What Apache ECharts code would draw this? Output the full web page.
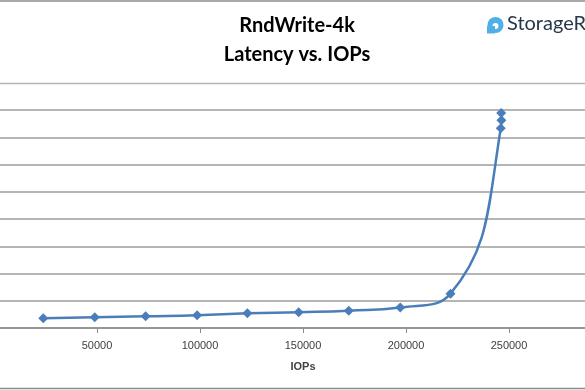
<!DOCTYPE html>
<html><head><meta charset="utf-8">
<script src="https://cdn.jsdelivr.net/npm/echarts@6/dist/echarts.min.js"></script>
<style>html,body{margin:0;padding:0;background:#fff;overflow:hidden;width:585px;height:390px}#c{position:absolute;left:-9px;top:0;width:624px;height:390px}</style>
</head><body><div id="c"></div>
<script>
const titleLines = ["RndWrite-4k", "Latency vs. IOPs"];
const xAxisName = "IOPs";
const iops = [23900, 48900, 73600, 98600, 123000, 147900, 172200, 197200, 221600, 246000, 246300, 246200];
const latency = [0.71, 0.79, 0.86, 0.93, 1.08, 1.16, 1.27, 1.50, 2.52, 14.66, 15.25, 15.78];
const xTicks = { min: 0, max: 300000, interval: 50000 };
const yTicks = { min: 0, max: 16, interval: 2 };

const OX = 9; // page-to-canvas x offset
const chart = echarts.init(document.getElementById('c'));
chart.setOption({
  animation: false,
  backgroundColor: '#fff',
  title: {
    text: titleLines.join('\n'),
    left: 292 + OX, top: 6, textAlign: 'center',
    textStyle: { fontFamily: 'Lato', fontWeight: 'bold', fontSize: 20, lineHeight: 29, color: '#000' }
  },
  graphic: [
    { type: 'line', shape: { x1: 0, y1: 1, x2: 640, y2: 1 }, style: { stroke: '#8c8c8c', lineWidth: 1.5 } },
    { type: 'line', shape: { x1: 0, y1: 83.5, x2: 640, y2: 83.5 }, style: { stroke: '#b4b4b4', lineWidth: 1.5 } },
    { type: 'line', shape: { x1: 0, y1: 388.5, x2: 640, y2: 388.5 }, style: { stroke: '#8c8c8c', lineWidth: 1.5 } },
    { type: 'circle', shape: { cx: 495.5 + OX, cy: 25, r: 8 }, style: { fill: '#4fb0e6' } },
    { type: 'circle', shape: { cx: 495.5 + OX, cy: 26, r: 3 }, style: { fill: '#fff' } },
    { type: 'rect', shape: { x: 487 + OX, y: 26, width: 8, height: 7.5 }, style: { fill: '#4fb0e6' } },
    { type: 'text', left: 507 + OX, top: 14, style: { text: 'StorageReview', fontFamily: 'Lato', fontSize: 20, fill: '#27384a' } }
  ],
  grid: { left: 0, right: 0, top: 110, bottom: 62 },
  xAxis: {
    type: 'value', min: xTicks.min, max: xTicks.max, interval: xTicks.interval,
    name: xAxisName, nameLocation: 'middle', nameGap: 33,
    nameTextStyle: { fontFamily: 'Liberation Sans', fontWeight: 'bold', fontSize: 11, color: '#404040' },
    axisLine: { lineStyle: { color: '#8c8c8c', width: 1.5 } },
    axisTick: { show: true, length: 5, lineStyle: { color: '#8c8c8c' } },
    axisLabel: { fontFamily: 'Liberation Sans', fontSize: 11, color: '#404040', margin: 12,
      formatter: v => (v === 0 || v === 300000) ? '' : String(v) },
    splitLine: { show: false }
  },
  yAxis: {
    type: 'value', min: yTicks.min, max: yTicks.max, interval: yTicks.interval,
    axisLabel: { show: false }, axisLine: { show: false }, axisTick: { show: false },
    splitLine: { lineStyle: { color: '#9c9c9c', width: 1.5 } }
  },
  series: [{
    type: 'line', data: iops.map((x, i) => [x, latency[i]]),
    smooth: 0.5, symbol: 'diamond', symbolSize: 10,
    lineStyle: { color: '#4a7ebb', width: 2.5 },
    itemStyle: { color: '#4a7ebb' }
  }]
});
</script></body></html>
